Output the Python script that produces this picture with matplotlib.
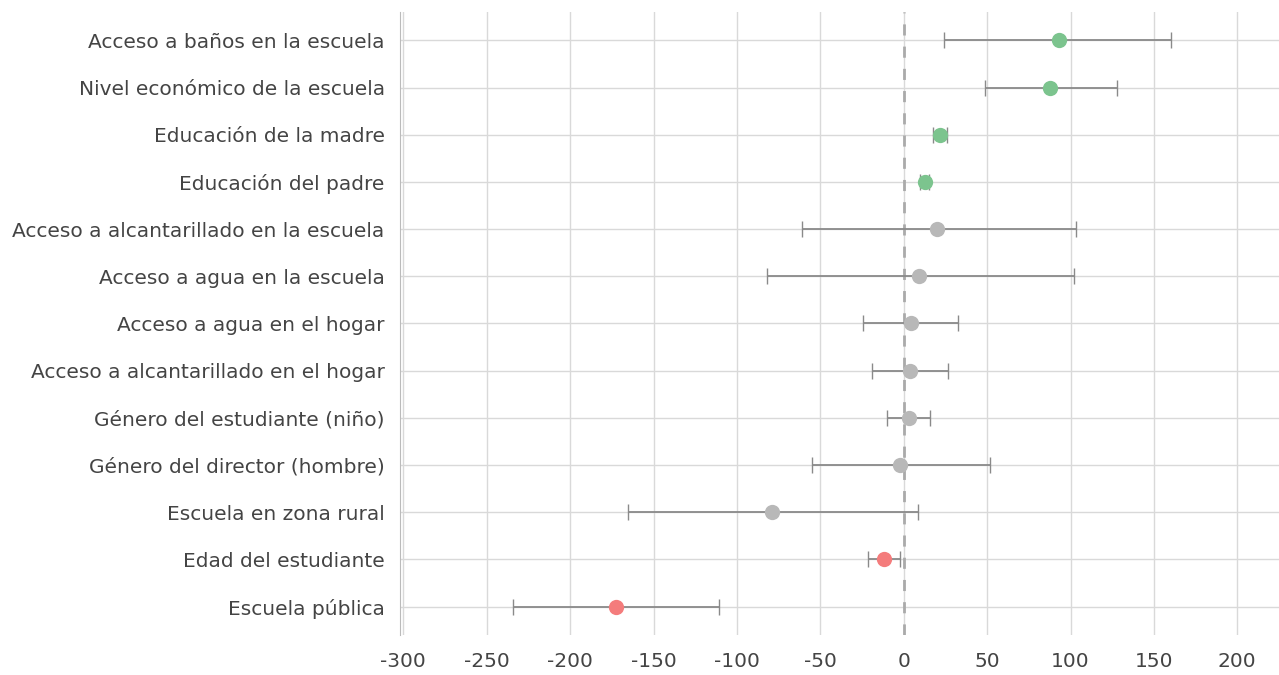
import matplotlib
matplotlib.use("Agg")
import matplotlib.pyplot as plt
import numpy as np

# factores y efecto estimado con intervalo
factores = [
    "Acceso a baños en la escuela",
    "Nivel económico de la escuela",
    "Educación de la madre",
    "Educación del padre",
    "Acceso a alcantarillado en la escuela",
    "Acceso a agua en la escuela",
    "Acceso a agua en el hogar",
    "Acceso a alcantarillado en el hogar",
    "Género del estudiante (niño)",
    "Género del director (hombre)",
    "Escuela en zona rural",
    "Edad del estudiante",
    "Escuela pública",
]
efecto = [93, 88, 21.5, 12.5, 20, 9, 4.5, 4, 3, -2, -79, -12, -172.5]
inf = [24, 49, 17.5, 10, -61, -82, -24.5, -19, -10, -55, -165.5, -21.5, -234.5]
sup = [160, 128, 26, 15, 103.5, 102, 32.5, 26.5, 16, 52, 8.5, -2, -110.5]
# signo: 1 positivo significativo, 0 no significativo, -1 negativo
signif = [1, 1, 1, 1, 0, 0, 0, 0, 0, 0, 0, -1, -1]

colores = {1: "#7cc48e", 0: "#b8b8b8", -1: "#f47c7c"}
xticks = [-300, -250, -200, -150, -100, -50, 0, 50, 100, 150, 200]

plt.rcParams['font.family'] = ['DejaVu Sans']

fig = plt.figure(figsize=(12.79, 6.75), dpi=100)
ax = fig.add_axes([400 / 1279, 40 / 675, 879 / 1279, 623 / 675])

y = np.arange(len(factores))
efecto = np.array(efecto)
err = [efecto - np.array(inf), np.array(sup) - efecto]

ax.errorbar(efecto, y, xerr=err, fmt="none", ecolor="#8a8a8a",
            elinewidth=1.3, capsize=6, capthick=1.0, zorder=3)
for yi, xi, s in zip(y, efecto, signif):
    ax.plot(xi, yi, "o", color=colores[s], ms=11, mec="none", zorder=4)

ax.axvline(0, color="#aaaaaa", lw=2, ls=(0, (4, 4)), zorder=2)

ax.set_xlim(-302, 225)
ax.set_ylim(len(factores) - 1 + 0.6, -0.6)
ax.set_yticks(y)
ax.set_yticklabels(factores)
ax.set_xticks(xticks)
ax.set_xticklabels([str(t) for t in xticks])

ax.grid(True, color="#d9d9d9", lw=1.0, zorder=0)
ax.tick_params(length=0, labelsize=14.5, colors="#444444")
ax.tick_params(axis="x", pad=12)
ax.tick_params(axis="y", pad=11)

for sp in ["top", "right", "bottom"]:
    ax.spines[sp].set_visible(False)
ax.spines["left"].set_color("#bbbbbb")

fig.savefig("out.png", dpi=100)
